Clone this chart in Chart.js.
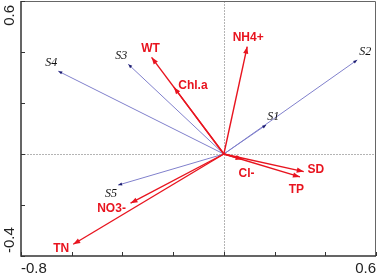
<!DOCTYPE html>
<html lang="en">
<head>
<meta charset="UTF-8"/>
<title>RDA biplot</title>
<script src="https://cdn.jsdelivr.net/npm/chart.js"></script>
<style>
  html, body { margin:0; padding:0; background:#fff; }
  .wrap { position:relative; width:378px; height:275px; }
</style>
</head>
<body>
<div class="wrap"><canvas id="rda"></canvas></div>
<script>
  // sites (blue arrows)
  const siteNames = ['S1','S2','S3','S4','S5'];
  const siteX = [0.167, 0.526, -0.377, -0.653, -0.417];
  const siteY = [0.114, 0.369, 0.352, 0.325, -0.122];

  // environmental variables (red arrows)
  const envNames = ['WT','Chl.a','NH4+','Cl-','SD','TP','NO3-','TN'];
  const envX = [-0.285, -0.197, 0.092, 0.074, 0.315, 0.300, -0.368, -0.594];
  const envY = [0.379, 0.262, 0.421, -0.021, -0.069, -0.090, -0.193, -0.354];

  // axis range + which ticks get a label
  const xRange = [-0.8, 0.6];
  const yRange = [-0.4, 0.6];
  const tickStep = 0.2;
  const xTickLabels = ['-0.8', '0.6'];
  const yTickLabels = ['0.6', '-0.4'];

  // label offset from arrow tip, px (text centre)
  const labelShift = {
    S1:[7,-8.5], S2:[8,-8.5], S3:[-7,-8], S4:[-7,-8.5], S5:[-7,8.5],
    WT:[-1,-9], 'Chl.a':[19,-2], 'NH4+':[1,-9], 'Cl-':[4,14],
    SD:[12,-2], TP:[-3.5,13], 'NO3-':[-19,5], TN:[-12,4]
  };

  const RED = '#e8141f', BLUE = '#8080cc', HEAD_BLUE = '#1c1c70';

  function arrow(name, x, y, kind){
    return {
      label: name, kind: kind,
      data: [{x:0, y:0}, {x:x, y:y}],
      showLine: true, pointRadius: 0, pointHoverRadius: 0,
      borderColor: kind === 'env' ? RED : BLUE,
      borderWidth: kind === 'env' ? 1.4 : 1
    };
  }

  const datasets = [];
  envNames.forEach((n,i) => datasets.push(arrow(n, envX[i], envY[i], 'env')));
  siteNames.forEach((n,i) => datasets.push(arrow(n, siteX[i], siteY[i], 'site')));

  const fmt = v => (Math.abs(v) < 1e-9 ? 0 : Math.round(v*10)/10).toFixed(1);

  // dashed zero lines
  const zeroLines = {
    id:'zeroLines',
    beforeDatasetsDraw(chart){
      const {ctx, chartArea:a, scales:{x, y}} = chart;
      ctx.save();
      ctx.strokeStyle = '#b4b4b4'; ctx.lineWidth = 1; ctx.setLineDash([2,1]);
      const x0 = Math.round(x.getPixelForValue(0)) + 0.5;
      const y0 = Math.round(y.getPixelForValue(0)) + 0.5;
      ctx.beginPath();
      ctx.moveTo(x0, a.top); ctx.lineTo(x0, a.bottom);
      ctx.moveTo(a.left, y0); ctx.lineTo(a.right, y0);
      ctx.stroke();
      ctx.restore();
    }
  };

  // arrowheads + text labels
  const arrowDeco = {
    id:'arrowDeco',
    afterDatasetsDraw(chart){
      const {ctx, scales:{x, y}} = chart;
      ctx.save();
      chart.data.datasets.forEach(ds => {
        const p0 = ds.data[0], p1 = ds.data[1];
        const ox = x.getPixelForValue(p0.x), oy = y.getPixelForValue(p0.y);
        const tx = x.getPixelForValue(p1.x), ty = y.getPixelForValue(p1.y);
        const ang = Math.atan2(ty - oy, tx - ox);
        const env = ds.kind === 'env';
        const len = env ? 7 : 4, half = env ? 2.6 : 1.6;
        ctx.fillStyle = env ? RED : HEAD_BLUE;
        ctx.beginPath();
        ctx.moveTo(tx, ty);
        ctx.lineTo(tx - len*Math.cos(ang) + half*Math.sin(ang), ty - len*Math.sin(ang) - half*Math.cos(ang));
        ctx.lineTo(tx - len*Math.cos(ang) - half*Math.sin(ang), ty - len*Math.sin(ang) + half*Math.cos(ang));
        ctx.closePath();
        ctx.fill();

        const s = labelShift[ds.label] || [0,0];
        ctx.textAlign = 'center'; ctx.textBaseline = 'middle';
        if (env){
          ctx.font = 'bold 12px "Liberation Sans", Arial, sans-serif';
          ctx.fillStyle = RED;
        } else {
          ctx.font = 'italic 12px "Liberation Serif", "Times New Roman", serif';
          ctx.fillStyle = '#111';
        }
        ctx.fillText(ds.label, tx + s[0], ty + s[1]);
      });
      ctx.restore();
    }
  };

  // frame, inward ticks, end labels
  const frame = {
    id:'frame',
    afterDraw(chart){
      const {ctx, chartArea:a, scales:{x, y}} = chart;
      ctx.save();
      ctx.strokeStyle = '#666'; ctx.lineWidth = 1;
      ctx.beginPath();
      ctx.moveTo(a.left, a.top + 0.5); ctx.lineTo(a.right - 0.5, a.top + 0.5); ctx.lineTo(a.right - 0.5, a.bottom);
      ctx.stroke();

      ctx.strokeStyle = '#333'; ctx.lineWidth = 1.5;
      ctx.beginPath();
      ctx.moveTo(a.left, a.top); ctx.lineTo(a.left, a.bottom); ctx.lineTo(a.right, a.bottom);
      ctx.stroke();

      ctx.lineWidth = 1;
      ctx.beginPath();
      x.ticks.forEach(t => {
        const px = Math.round(x.getPixelForValue(t.value)) + 0.5;
        ctx.moveTo(px, a.bottom); ctx.lineTo(px, a.bottom - 4);
      });
      y.ticks.forEach(t => {
        const py = Math.round(y.getPixelForValue(t.value)) + 0.5;
        ctx.moveTo(a.left, py); ctx.lineTo(a.left + 4, py);
      });
      ctx.stroke();

      ctx.fillStyle = '#222';
      ctx.font = '15px "Liberation Sans", Arial, sans-serif';
      ctx.textBaseline = 'alphabetic';
      x.ticks.forEach(t => {
        const lab = fmt(t.value);
        if (!xTickLabels.includes(lab)) return;
        const px = x.getPixelForValue(t.value);
        ctx.textAlign = t.value <= x.min + 1e-9 ? 'left' : 'right';
        ctx.fillText(lab, px, a.bottom + 17);
      });
      y.ticks.forEach(t => {
        const lab = fmt(t.value);
        if (!yTickLabels.includes(lab)) return;
        const py = y.getPixelForValue(t.value);
        const top = t.value >= y.max - 1e-9;
        ctx.save();
        ctx.translate(a.left - 7.5, top ? py + 4 : py - 3);
        ctx.rotate(-Math.PI/2);
        ctx.textAlign = top ? 'right' : 'left';
        ctx.fillText(lab, 0, 0);
        ctx.restore();
      });
      ctx.restore();
    }
  };

  new Chart(document.getElementById('rda'), {
    type:'scatter',
    data:{ datasets },
    options:{
      responsive:true, maintainAspectRatio:false, animation:false,
      layout:{ padding:{ left:21, top:1, right:2, bottom:19 } },
      plugins:{ legend:{display:false}, tooltip:{enabled:false} },
      scales:{
        x:{ type:'linear', display:false, min:xRange[0], max:xRange[1], ticks:{ stepSize:tickStep } },
        y:{ type:'linear', display:false, min:yRange[0], max:yRange[1], ticks:{ stepSize:tickStep } }
      }
    },
    plugins:[zeroLines, arrowDeco, frame]
  });
</script>
</body>
</html>
